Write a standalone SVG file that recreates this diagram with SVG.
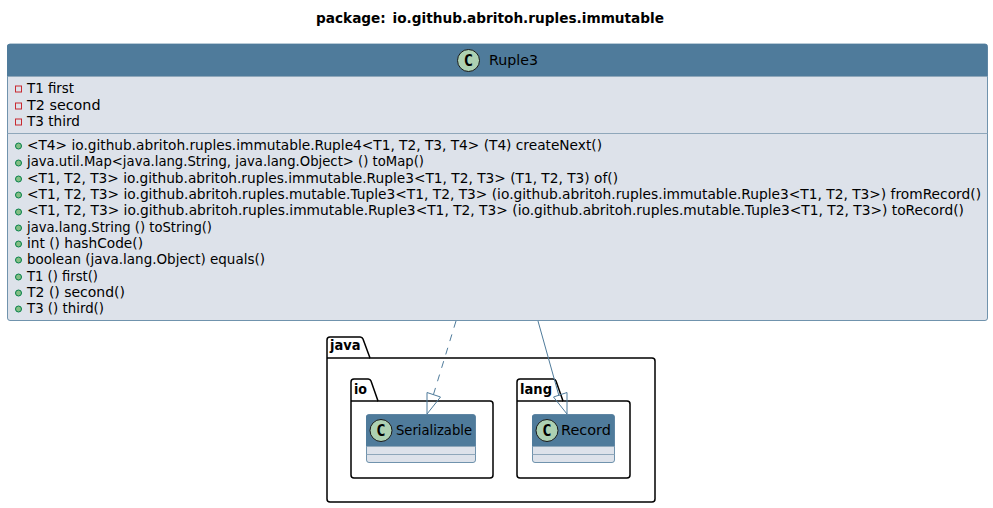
<svg xmlns="http://www.w3.org/2000/svg" width="993" height="508" viewBox="0 0 993 508">
<style>
text{font-family:"DejaVu Sans",sans-serif;font-size:14px;fill:#000}
.title{font-weight:bold;word-spacing:2px}
.pkg{fill:#fff;stroke:#000;stroke-width:1.5}
.pl{font-weight:bold}
.body{fill:#DDE2EA;stroke:#4F7B9B;stroke-width:.8}
.head{fill:#4F7B9B}
.sep{stroke:#8FA7BA;stroke-width:1;fill:none}
.spot{fill:#ADD1B2;stroke:#181818;stroke-width:1}
text.c{font-family:"DejaVu Sans Mono",monospace;font-size:15.500px;font-weight:bold;text-anchor:middle}
text.long{font-size:13.600px}
.pub{fill:#84BE84;stroke:#038048;stroke-width:1}
.priv{fill:none;stroke:#C82930;stroke-width:1}
.link{fill:none;stroke:#4F7B9B;stroke-width:1}
.arrow{fill:none;stroke:#4F7B9B;stroke-width:1}
</style>
<rect width="993" height="508" fill="#fff"/>
<text class="title" x="316" y="23" textLength="348" lengthAdjust="spacingAndGlyphs">package: io.github.abritoh.ruples.immutable</text>
<g id="pkg-java">
<path class="pkg" d="M327 358V340a3 3 0 0 1 3-3h30a3 3 0 0 1 3 2l7 19h282a3 3 0 0 1 3 3V499a3 3 0 0 1-3 3H330a3 3 0 0 1-3-3Z"/>
<path class="pkg" d="M327 358h43"/>
<text class="pl" x="330" y="350" textLength="30.500" lengthAdjust="spacingAndGlyphs">java</text>
</g>
<g id="pkg-io">
<path class="pkg" d="M351 401V382a3 3 0 0 1 3-3h14a3 3 0 0 1 3 2l7 20h112a3 3 0 0 1 3 3V475a3 3 0 0 1-3 3H354a3 3 0 0 1-3-3Z"/>
<path class="pkg" d="M351 401h27"/>
<text class="pl" x="354" y="394" textLength="13" lengthAdjust="spacingAndGlyphs">io</text>
</g>
<g id="pkg-lang">
<path class="pkg" d="M517 401V382a3 3 0 0 1 3-3h33a3 3 0 0 1 3 2l7 20h64a3 3 0 0 1 3 3V475a3 3 0 0 1-3 3H520a3 3 0 0 1-3-3Z"/>
<path class="pkg" d="M517 401h46"/>
<text class="pl" x="520" y="394" textLength="32" lengthAdjust="spacingAndGlyphs">lang</text>
</g>
<g id="Ruple3">
<rect class="body" x="7.500" y="44" width="980" height="276.500" rx="2.500"/>
<path class="head" d="M7 76.500V46.500a2.500 2.500 0 0 1 2.500-2.500h975.500a2.500 2.500 0 0 1 2.500 2.500V76.500Z"/>
<path class="sep" d="M7.500 76.500H987.500M7.500 133.500H987.500"/>
<circle class="spot" cx="468.500" cy="60.500" r="11"/>
<text class="c" x="468.500" y="66">C</text>
<text x="489" y="65" textLength="49" lengthAdjust="spacingAndGlyphs">Ruple3</text>
<rect class="priv" x="15.500" y="86" width="6" height="6"/><text x="27" y="93" textLength="47" lengthAdjust="spacingAndGlyphs">T1 first</text>
<rect class="priv" x="15.500" y="103" width="6" height="6"/><text x="27" y="110" textLength="73.500" lengthAdjust="spacingAndGlyphs">T2 second</text>
<rect class="priv" x="15.500" y="119" width="6" height="6"/><text x="27" y="126" textLength="53" lengthAdjust="spacingAndGlyphs">T3 third</text>
<circle class="pub" cx="18.500" cy="146" r="3"/><text x="27" y="150" textLength="575" lengthAdjust="spacingAndGlyphs">&lt;T4&gt; io.github.abritoh.ruples.immutable.Ruple4&lt;T1, T2, T3, T4&gt; (T4) createNext()</text>
<circle class="pub" cx="18.500" cy="163" r="3"/><text x="27" y="166" textLength="397" lengthAdjust="spacingAndGlyphs">java.util.Map&lt;java.lang.String, java.lang.Object&gt; () toMap()</text>
<circle class="pub" cx="18.500" cy="179" r="3"/><text x="27" y="183" textLength="591" lengthAdjust="spacingAndGlyphs">&lt;T1, T2, T3&gt; io.github.abritoh.ruples.immutable.Ruple3&lt;T1, T2, T3&gt; (T1, T2, T3) of()</text>
<circle class="pub" cx="18.500" cy="195" r="3"/><text class="long" x="27" y="199" textLength="954" lengthAdjust="spacingAndGlyphs">&lt;T1, T2, T3&gt; io.github.abritoh.ruples.mutable.Tuple3&lt;T1, T2, T3&gt; (io.github.abritoh.ruples.immutable.Ruple3&lt;T1, T2, T3&gt;) fromRecord()</text>
<circle class="pub" cx="18.500" cy="212" r="3"/><text class="long" x="27" y="215" textLength="937" lengthAdjust="spacingAndGlyphs">&lt;T1, T2, T3&gt; io.github.abritoh.ruples.immutable.Ruple3&lt;T1, T2, T3&gt; (io.github.abritoh.ruples.mutable.Tuple3&lt;T1, T2, T3&gt;) toRecord()</text>
<circle class="pub" cx="18.500" cy="228" r="3"/><text x="27" y="232" textLength="185" lengthAdjust="spacingAndGlyphs">java.lang.String () toString()</text>
<circle class="pub" cx="18.500" cy="244" r="3"/><text x="27" y="248" textLength="116" lengthAdjust="spacingAndGlyphs">int () hashCode()</text>
<circle class="pub" cx="18.500" cy="260" r="3"/><text x="27" y="264" textLength="238" lengthAdjust="spacingAndGlyphs">boolean (java.lang.Object) equals()</text>
<circle class="pub" cx="18.500" cy="277" r="3"/><text x="27" y="281" textLength="71" lengthAdjust="spacingAndGlyphs">T1 () first()</text>
<circle class="pub" cx="18.500" cy="293" r="3"/><text x="27" y="297" textLength="98" lengthAdjust="spacingAndGlyphs">T2 () second()</text>
<circle class="pub" cx="18.500" cy="309" r="3"/><text x="27" y="313" textLength="77" lengthAdjust="spacingAndGlyphs">T3 () third()</text>
</g>
<g id="Serializable">
<rect class="body" x="366.500" y="414.500" width="109" height="48" rx="2.500"/>
<path class="head" d="M366 446.500V417a2.500 2.500 0 0 1 2.500-2.500h104.500a2.500 2.500 0 0 1 2.500 2.500V446.500Z"/>
<path class="sep" d="M366.500 446.500H475.500M366.500 454.500H475.500"/>
<circle class="spot" cx="381" cy="430.500" r="11"/>
<text class="c" x="381" y="436">C</text>
<text x="396" y="435" textLength="76" lengthAdjust="spacingAndGlyphs">Serializable</text>
</g>
<g id="Record">
<rect class="body" x="532.500" y="414.500" width="82" height="48" rx="2.500"/>
<path class="head" d="M532 446.500V417a2.500 2.500 0 0 1 2.500-2.500h77.500a2.500 2.500 0 0 1 2.500 2.500V446.500Z"/>
<path class="sep" d="M532.500 446.500H614.500M532.500 454.500H614.500"/>
<circle class="spot" cx="547" cy="430.500" r="11"/>
<text class="c" x="547" y="436">C</text>
<text x="561" y="435" textLength="50" lengthAdjust="spacingAndGlyphs">Record</text>
</g>
<g id="connectors">
<path class="link" stroke-dasharray="7 7" d="M456 321L433 396"/>
<path class="arrow" d="M427 392.500L440.500 397L427 414Z"/>
<path class="link" d="M538 321L559 396"/>
<path class="arrow" d="M553.500 397L567 392.500V414Z"/>
</g>
</svg>
